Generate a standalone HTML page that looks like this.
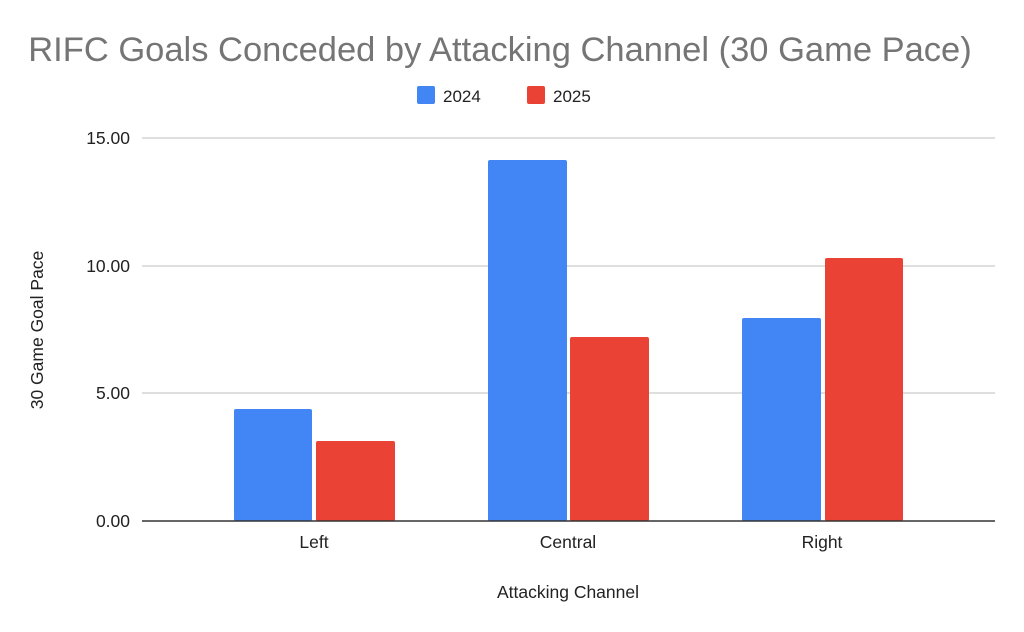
<!DOCTYPE html>
<html><head><meta charset="utf-8"><style>
body{margin:0;background:#fff;}
svg{display:block;font-family:"Liberation Sans",Arial,sans-serif;}
</style></head><body>
<svg width="1024" height="632" viewBox="0 0 1024 632">
<text x="500" y="61" font-size="34.5" fill="#757575" text-anchor="middle">RIFC Goals Conceded by Attacking Channel (30 Game Pace)</text>
<rect x="417" y="86" width="18" height="18" rx="2" fill="#4285f4"/>
<text x="443" y="102" font-size="17" fill="#222">2024</text>
<rect x="527" y="86" width="18" height="18" rx="2" fill="#ea4335"/>
<text x="553" y="102" font-size="17" fill="#222">2025</text>
<g stroke="#cccccc" stroke-width="1.3">
<line x1="142" x2="995" y1="138" y2="138"/>
<line x1="142" x2="995" y1="266" y2="266"/>
<line x1="142" x2="995" y1="393" y2="393"/>
</g>
<g font-size="17.5" fill="#222" text-anchor="end">
<text x="130" y="144">15.00</text>
<text x="130" y="272">10.00</text>
<text x="130" y="399">5.00</text>
<text x="130" y="527">0.00</text>
</g>
<g>
<rect x="234" y="409" width="78" height="112" rx="2" fill="#4285f4"/>
<rect x="316" y="441" width="79" height="80" rx="2" fill="#ea4335"/>
<rect x="488" y="160" width="79" height="361" rx="2" fill="#4285f4"/>
<rect x="570" y="337" width="79" height="184" rx="2" fill="#ea4335"/>
<rect x="742" y="318" width="79" height="203" rx="2" fill="#4285f4"/>
<rect x="825" y="258" width="78" height="263" rx="2" fill="#ea4335"/>
</g>
<line x1="142" x2="995" y1="521" y2="521" stroke="#333" stroke-width="1.5"/>
<g font-size="17.5" fill="#222" text-anchor="middle">
<text x="314" y="548">Left</text>
<text x="568" y="548">Central</text>
<text x="822" y="548">Right</text>
<text x="568" y="598">Attacking Channel</text>
</g>
<text transform="translate(43,330) rotate(-90)" font-size="17.5" fill="#222" text-anchor="middle">30 Game Goal Pace</text>
</svg>
</body></html>
